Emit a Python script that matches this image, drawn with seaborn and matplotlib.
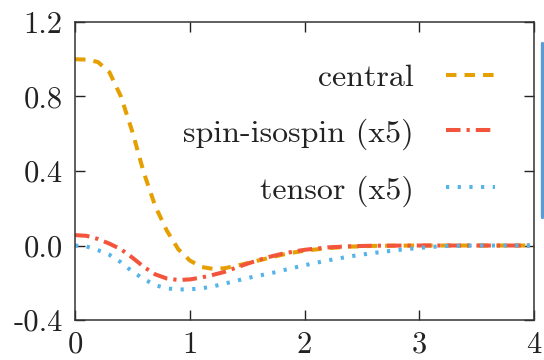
import matplotlib
matplotlib.use("Agg")
import matplotlib.pyplot as plt
from matplotlib.lines import Line2D
import seaborn as sns
import pandas as pd

# Radial profiles of the interaction components
x_central = [0.0, 0.1, 0.2, 0.3, 0.4, 0.5, 0.6, 0.7, 0.8, 0.9, 1.0, 1.1, 1.2, 1.3,
             1.4, 1.5, 1.6, 1.7, 1.8, 1.9, 2.0, 2.2, 2.4, 2.6, 3.0, 3.5, 4.0]
central = [1.0, 0.998, 0.985, 0.93, 0.80, 0.61, 0.39, 0.21, 0.08, -0.02, -0.08,
           -0.115, -0.125, -0.122, -0.11, -0.095, -0.08, -0.065, -0.05, -0.038,
           -0.028, -0.014, -0.006, -0.002, 0.0, 0.0, 0.0]

x_spin = [0.0, 0.1, 0.2, 0.3, 0.4, 0.5, 0.6, 0.7, 0.8, 0.9, 1.0, 1.1, 1.2, 1.3,
          1.4, 1.5, 1.6, 1.7, 1.8, 1.9, 2.0, 2.2, 2.4, 2.6, 3.0, 3.5, 4.0]
spin_isospin = [0.056, 0.052, 0.035, 0.01, -0.02, -0.065, -0.115, -0.155, -0.177,
                -0.185, -0.182, -0.172, -0.158, -0.142, -0.12, -0.098, -0.078,
                -0.06, -0.045, -0.033, -0.023, -0.01, -0.004, -0.001, 0.0, 0.0, 0.0]

x_tensor = [0.0, 0.1, 0.2, 0.3, 0.4, 0.5, 0.6, 0.7, 0.8, 0.9, 1.0, 1.1, 1.2, 1.3,
            1.4, 1.5, 1.6, 1.7, 1.8, 1.9, 2.0, 2.2, 2.4, 2.6, 2.8, 3.0, 3.2, 3.5, 4.0]
tensor = [0.0, -0.005, -0.025, -0.05, -0.09, -0.14, -0.18, -0.213, -0.23, -0.236,
          -0.235, -0.23, -0.22, -0.205, -0.19, -0.175, -0.162, -0.15, -0.135,
          -0.12, -0.106, -0.08, -0.058, -0.04, -0.025, -0.013, -0.003, 0.0, 0.0]

labels = ["central", "spin-isospin (x5)", "tensor (x5)"]
x_ticks = [0, 1, 2, 3, 4]
x_ticklabels = ["0", "1", "2", "3", "4"]
y_ticks = [-0.4, 0.0, 0.4, 0.8, 1.2]
y_ticklabels = ["-0.4", "0.0", "0.4", "0.8", "1.2"]

sns.set_theme(style="ticks")
plt.rcParams["font.family"] = ["cmr10", "DejaVu Serif"]
plt.rcParams["axes.unicode_minus"] = False

fig = plt.figure(figsize=(5.44, 3.6), dpi=100)
ax = fig.add_axes([0.1379, 0.111, 0.8437, 0.828])

lw = 2.9
styles = [
    dict(color="#E69F00", linestyle=(0, (2.6, 2.0))),
    dict(color="#F2553C", linestyle=(0, (3.6, 1.5, 0.8, 1.5))),
    dict(color="#56B4E9", linestyle=(0, (0.8, 2.1))),
]
series = [(x_central, central), (x_spin, spin_isospin), (x_tensor, tensor)]

for (xs, ys), lab, st in zip(series, labels, styles):
    df = pd.DataFrame({"r": xs, "v": ys})
    sns.lineplot(data=df, x="r", y="v", ax=ax, label=lab, lw=lw,
                 color=st["color"], linestyle=st["linestyle"])

ax.set_xlim(0, 4)
ax.set_ylim(-0.4, 1.2)
ax.set_xticks(x_ticks)
ax.set_xticklabels(x_ticklabels)
ax.set_yticks(y_ticks)
ax.set_yticklabels(y_ticklabels)
ax.set_xlabel("")
ax.set_ylabel("")

ax.tick_params(direction="in", length=7, width=1.0, color="#222222",
               labelsize=22, top=True, right=True, colors="#222222")
ax.tick_params(axis="x", pad=8)
ax.tick_params(axis="y", pad=9)
for s in ax.spines.values():
    s.set_linewidth(1.1)
    s.set_color("#333333")
    s.set_visible(True)

leg = ax.legend(loc="upper right", bbox_to_anchor=(0.978, 0.955),
                frameon=False, markerfirst=False, fontsize=23,
                handlelength=1.55, handletextpad=1.0, labelspacing=0.8)
for t in leg.get_texts():
    t.set_color("#222222")

# thin blue bar along the right edge of the figure
fig.add_artist(Line2D([0.9963, 0.9963], [0.397, 0.8806], transform=fig.transFigure,
                      color="#5B9BD5", lw=2.4))

fig.savefig("out.png", dpi=100)
